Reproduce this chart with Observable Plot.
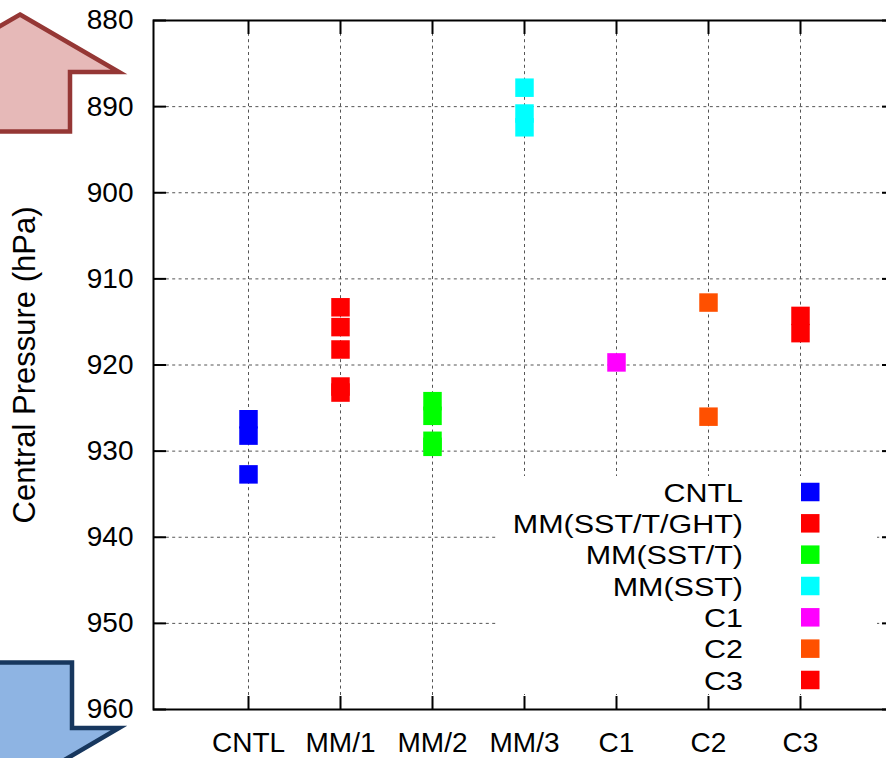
<!DOCTYPE html>
<html>
<head>
<meta charset="utf-8">
<script src="https://cdn.jsdelivr.net/npm/d3@7"></script>
<script src="https://cdn.jsdelivr.net/npm/@observablehq/plot@0.6"></script>
<style>
  html, body { margin: 0; padding: 0; background: #fff; }
</style>
</head>
<body>
<div id="chart"></div>
<script>
// ---- data ----
const categories = ["CNTL", "MM/1", "MM/2", "MM/3", "C1", "C2", "C3"];
const seriesNames = ["CNTL", "MM(SST/T/GHT)", "MM(SST/T)", "MM(SST)", "C1", "C2", "C3"];
const seriesColors = ["#0000ff", "#ff0000", "#00ff00", "#00ffff", "#ff00ff", "#ff5000", "#ff0000"];
const cntlValues = [926.3, 928.2, 932.7];
const mm1Values = [913.3, 915.6, 918.2, 922.5, 923.2];
const mm2Values = [924.2, 925.9, 928.8, 929.5];
const mm3Values = [887.8, 890.8, 892.4];
const c1Values = [919.7];
const c2Values = [912.75, 926.0];
const c3Values = [914.3, 916.3];
const yTicks = [880, 890, 900, 910, 920, 930, 940, 950, 960];
const yGridTicks = [890, 900, 910, 920, 930, 940, 950];
const yLabel = "Central Pressure (hPa)";

const seriesValues = [cntlValues, mm1Values, mm2Values, mm3Values, c1Values, c2Values, c3Values];
const points = categories.flatMap((c, i) =>
  seriesValues[i].map(v => ({category: c, series: seriesNames[i], pressure: v}))
);

// ---- decorations (pixel space) ----
function arrows() {
  const g = d3.create("svg:g");
  g.append("polygon")
    .attr("points", "20,14.5 119,72 70,72 70,131.5 -30,131.5 -30,72 -79,72")
    .attr("fill", "#e6b9b8").attr("stroke", "#953735")
    .attr("stroke-width", 4.5).attr("stroke-linejoin", "miter");
  g.append("polygon")
    .attr("points", "20,786 119,728 72,728 72,662.5 -32,662.5 -32,728 -79,728")
    .attr("fill", "#8eb4e3").attr("stroke", "#17375e")
    .attr("stroke-width", 4.5).attr("stroke-linejoin", "miter");
  return g.node();
}

function legendBox() {
  return d3.create("svg:rect")
    .attr("x", 498).attr("y", 476).attr("width", 379).attr("height", 218)
    .attr("fill", "white").node();
}

function legendEntries() {
  const g = d3.create("svg:g");
  seriesNames.forEach((name, i) => {
    const cy = 492 + i * 31.33;
    g.append("text")
      .attr("transform", `translate(743,${cy}) scale(1.15,1)`)
      .attr("dy", "0.36em")
      .attr("text-anchor", "end").attr("font-size", 26.5).attr("fill", "black")
      .text(name);
    g.append("rect")
      .attr("x", 801).attr("y", cy - 9.25).attr("width", 18.5).attr("height", 18.5)
      .attr("fill", seriesColors[i]);
  });
  return g.node();
}

const gridStyle = {stroke: "#555", strokeOpacity: 1, strokeWidth: 1, strokeDasharray: "3,3.4"};

const chart = Plot.plot({
  width: 886,
  height: 758,
  marginLeft: 153,
  marginTop: 20,
  marginBottom: 49,
  marginRight: -8,
  style: {
    fontFamily: "'Liberation Sans', Arial, Helvetica, sans-serif",
    fontSize: "28px",
    color: "black",
    background: "white",
    overflow: "hidden"
  },
  x: {type: "point", domain: categories, padding: 1, axis: null},
  y: {domain: [880, 960], reverse: true, axis: null},
  color: {domain: seriesNames, range: seriesColors},
  marks: [
    arrows,
    Plot.gridY(yGridTicks, gridStyle),
    Plot.gridX(categories, gridStyle),
    legendBox,
    Plot.dot(points, {x: "category", y: "pressure", fill: d => seriesColors[seriesNames.indexOf(d.series)], symbol: "square", r: 10.44, stroke: null}),
    legendEntries,
    Plot.frame({stroke: "black", strokeWidth: 2}),
    Plot.axisY(yTicks, {tickSize: -13, fill: "none", strokeWidth: 2, label: null}),
    Plot.axisY(yTicks, {anchor: "right", tickSize: -13, fill: "none", strokeWidth: 2, label: null}),
    Plot.axisX(categories, {anchor: "top", tickSize: -13, fill: "none", strokeWidth: 2, label: null}),
    Plot.axisX(categories, {anchor: "bottom", tickSize: -13, fill: "none", strokeWidth: 2, label: null}),
    Plot.axisY(yTicks, {tickSize: 0, tickPadding: 20, fontSize: 28, label: null}),
    Plot.axisX(categories, {tickSize: 0, tickPadding: 23, fontSize: 28, label: null}),
    Plot.text([yLabel], {text: d => d, frameAnchor: "left", rotate: -90, dx: -128, fontSize: 31, textAnchor: "middle", lineAnchor: "middle", fill: "black"})
  ]
});
document.getElementById("chart").appendChild(chart);
</script>
</body>
</html>
